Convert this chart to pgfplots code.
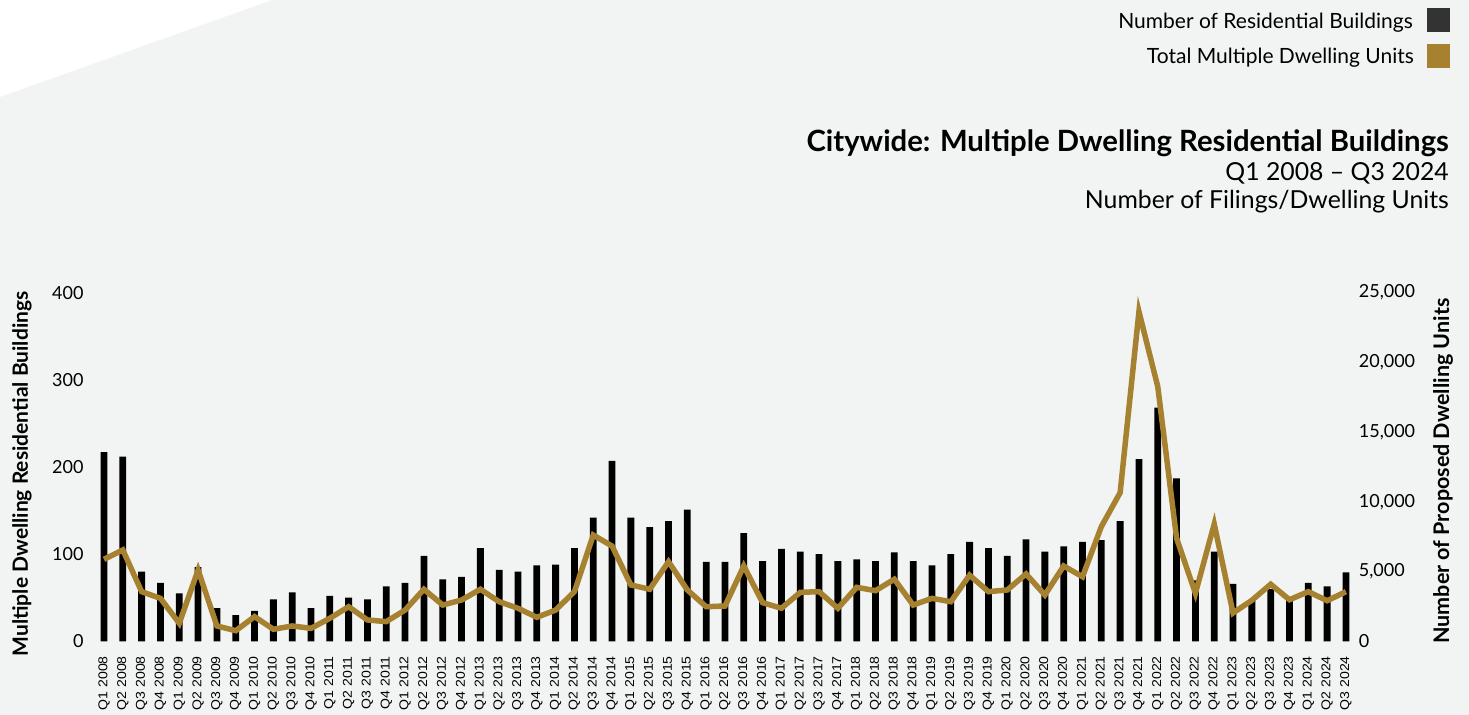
\documentclass[border=0pt]{standalone}
\usepackage{fontspec}
\setmainfont{Lato}
\newfontfamily\arialfont[FakeStretch=1.1]{Liberation Sans}
\usepackage{pgfplots}
\pgfplotsset{compat=1.18}
\definecolor{bg}{HTML}{F2F3F3}
\definecolor{gold}{HTML}{A6812F}
\definecolor{darkbox}{HTML}{333333}

\pgfplotstableread{
x y
0 217
1 212
2 80
3 67
4 55
5 85
6 38
7 30
8 35
9 48
10 56
11 38
12 52
13 50
14 48
15 63
16 67
17 98
18 71
19 74
20 107
21 82
22 80
23 87
24 88
25 107
26 142
27 207
28 142
29 131
30 138
31 151
32 91
33 91
34 124
35 92
36 106
37 103
38 100
39 92
40 94
41 92
42 102
43 92
44 87
45 100
46 114
47 107
48 98
49 117
50 103
51 109
52 114
53 116
54 138
55 209
56 268
57 187
58 70
59 103
60 66
61 47
62 60
63 48
64 67
65 63
66 79
}\buildings

\pgfplotstableread{
x y
0 5880
1 6550
2 3560
3 3080
4 1290
5 5110
6 1100
7 760
8 1770
9 860
10 1100
11 930
12 1650
13 2480
14 1530
15 1410
16 2240
17 3730
18 2600
19 2960
20 3730
21 2840
22 2370
23 1720
24 2240
25 3560
26 7620
27 6830
28 4040
29 3730
30 5710
31 3680
32 2480
33 2530
34 5400
35 2770
36 2370
37 3510
38 3560
39 2370
40 3870
41 3630
42 4450
43 2600
44 3080
45 2840
46 4740
47 3560
48 3680
49 4830
50 3320
51 5400
52 4630
53 8220
54 10660
55 23640
56 18260
57 7390
58 3440
59 8410
60 2030
61 2940
62 4090
63 2980
64 3560
65 2910
66 3560
}\units

\begin{document}
\begin{tikzpicture}[x=1bp,y=1bp]
\fill[bg] (0,0) rectangle (1469,715);
\fill[white] (0,715) -- (272,715) -- (0,618) -- cycle;

% legend
\node[anchor=base east, font=\fontsize{21bp}{24bp}\selectfont, inner sep=0] at (1413,686.7) {Number of Residential Buildings};
\fill[darkbox] (1427,683.3) rectangle (1450,706.7);
\node[anchor=base east, font=\fontsize{21bp}{24bp}\selectfont, inner sep=0] at (1414,651) {Total Multiple Dwelling Units};
\fill[gold] (1427,647.3) rectangle (1450,671);

% titles
\node[anchor=base east, font=\bfseries\fontsize{29.3bp}{32bp}\selectfont, inner sep=0] at (1449,563.3) {Citywide: Multiple Dwelling Residential Buildings};
\node[anchor=base east, font=\fontsize{24.8bp}{28bp}\selectfont, inner sep=0] at (1449,534.5) {Q1 2008 – Q3 2024};
\node[anchor=base east, font=\fontsize{24.8bp}{28bp}\selectfont, inner sep=0] at (1449,506) {Number of Filings/Dwelling Units};

\begin{axis}[
  at={(94.6bp,73.7bp)}, anchor=south west,
  scale only axis, width=1260.8bp, height=348.6bp,
  xmin=-0.5, xmax=66.5, ymin=0, ymax=400,
  axis line style={draw=none}, major tick length=0, tick style={draw=none},
  ytick={0,100,200,300,400},
  /pgf/number format/assume math mode=true,
  yticklabel style={font=\fontsize{18bp}{20bp}\selectfont, xshift=-7.6bp},
  xtick={0,...,66},
  xticklabels={Q1 2008,Q2 2008,Q3 2008,Q4 2008,Q1 2009,Q2 2009,Q3 2009,Q4 2009,Q1 2010,Q2 2010,Q3 2010,Q4 2010,Q1 2011,Q2 2011,Q3 2011,Q4 2011,Q1 2012,Q2 2012,Q3 2012,Q4 2012,Q1 2013,Q2 2013,Q3 2013,Q4 2013,Q1 2014,Q2 2014,Q3 2014,Q4 2014,Q1 2015,Q2 2015,Q3 2015,Q4 2015,Q1 2016,Q2 2016,Q3 2016,Q4 2016,Q1 2017,Q2 2017,Q3 2017,Q4 2017,Q1 2018,Q2 2018,Q3 2018,Q4 2018,Q1 2019,Q2 2019,Q3 2019,Q4 2019,Q1 2020,Q2 2020,Q3 2020,Q4 2020,Q1 2021,Q2 2021,Q3 2021,Q4 2021,Q1 2022,Q2 2022,Q3 2022,Q4 2022,Q1 2023,Q2 2023,Q3 2023,Q4 2023,Q1 2024,Q2 2024,Q3 2024},
  xticklabel shift={11.4bp},
  xticklabel style={font=\arialfont\fontsize{12.8bp}{14bp}\selectfont, rotate=90, anchor=east},
  ylabel={Multiple Dwelling Residential Buildings},
  every axis y label/.style={at={(axis description cs:-0.0576,0.48)}, rotate=90, anchor=center, font=\bfseries\fontsize{21bp}{24bp}\selectfont},
  ybar, bar width=6.8bp,
]
\addplot[fill=black, draw=none] table[x=x,y=y] {\buildings};
\end{axis}

\begin{axis}[
  at={(94.6bp,73.7bp)}, anchor=south west,
  scale only axis, width=1260.8bp, height=348.6bp,
  xmin=-0.5, xmax=66.5, ymin=0, ymax=25000,
  hide x axis, axis y line*=right,
  axis line style={draw=none}, major tick length=0, tick style={draw=none},
  ytick={0,5000,10000,15000,20000,25000},
  scaled y ticks=false,
  /pgf/number format/.cd, 1000 sep={,}, assume math mode=true, /pgfplots/.cd,
  yticklabel style={font=\fontsize{18bp}{20bp}\selectfont},
  ylabel={Number of Proposed Dwelling Units},
  every axis y label/.style={at={(axis description cs:1.0695,0.488)}, rotate=90, anchor=center, font=\bfseries\fontsize{21.5bp}{24bp}\selectfont},
]
\addplot[gold, line width=5.5bp, mark=none, line join=miter] table[x=x,y=y] {\units};
\end{axis}

\pgfresetboundingbox
\path (0,0) rectangle (1469,715);
\end{tikzpicture}
\end{document}
